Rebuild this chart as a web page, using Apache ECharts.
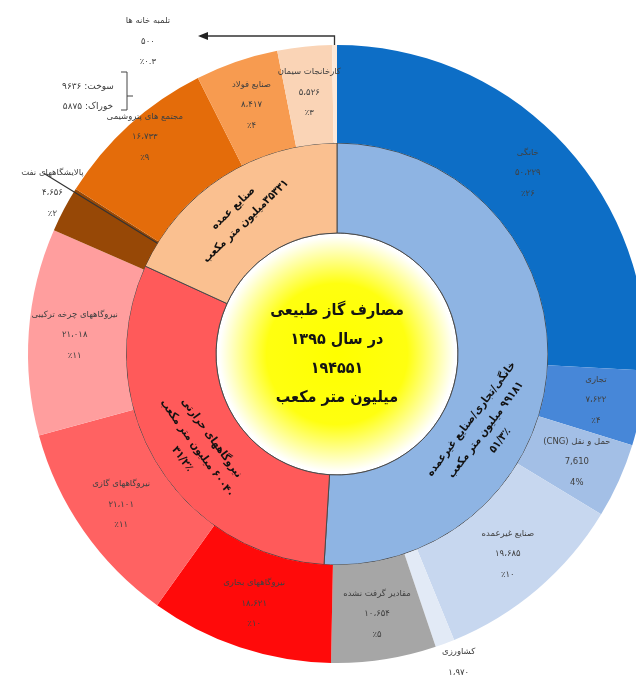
<!DOCTYPE html>
<html>
<head>
<meta charset="utf-8">
<script src="https://cdn.jsdelivr.net/npm/echarts@6/dist/echarts.min.js"></script>
<style>
  html, body { margin: 0; padding: 0; background: #ffffff; }
  #chart { width: 636px; height: 679px; }
</style>
</head>
<body>
<div id="chart"></div>
<script>
// Natural gas consumption in 1395, million cubic metres

// inner ring: consumer groups
const sectorNames = ['خانگی/تجاری/صنایع غیرعمده', 'نیروگاههای حرارتی', 'صنایع عمده'];
const sectorValues = [99181, 60040, 35331];
const sectorShares = ['۵۱/۳٪', '۳۱/۲٪', ''];

// outer ring: individual uses
const useNames = [
  'خانگی', 'تجاری', 'حمل و نقل (CNG)', 'صنایع غیرعمده', 'کشاورزی', 'مقادیر گرفت نشده',
  'نیروگاههای بخاری', 'نیروگاههای گازی', 'نیروگاههای چرخه ترکیبی',
  'پالایشگاههای نفت', 'مجتمع های پتروشیمی', 'صنایع فولاد', 'کارخانجات سیمان', 'تلمبه خانه ها'
];
const useValues = [50229, 7622, 7610, 19685, 1970, 10654, 18621, 21101, 21018, 4656, 16733, 8417, 5526, 500];
const useShares = ['٪۲۶', '٪۴', '4%', '٪۱۰', '٪۱', '٪۵', '٪۱۰', '٪۱۱', '٪۱۱', '٪۲', '٪۹', '٪۴', '٪۳', '٪۰.۳'];

// petrochemical split
const petroParts = ['سوخت', 'خوراک'];
const petroValues = [9636, 5875];

const totalUse = 194551;
const titleLines = ['مصارف گاز طبیعی', 'در سال ۱۳۹۵', 'TOTAL', 'میلیون متر مکعب'];

// ---- styling ----
const sectorColors = ['#8EB4E3', '#FF5A5A', '#FAC090'];
const useColors = [
  '#0D6EC6', '#4787D8', '#A3BFE6', '#C7D7EF', '#E2EAF6', '#A6A6A6',
  '#FF0A0A', '#FF6262', '#FF9E9E',
  '#974806', '#E46C0A', '#F79B50', '#FAD4B6', '#FDE9D9'
];
const latinIndex = [2];           // this label is set in Latin digits

const CX = 337, CY = 354;
const R_CORE = 121, R_MID = 211, R_OUT = 309;
const FONT = 'DejaVu Sans';
const FONT_NARROW = 'DejaVu Sans Condensed';

// label placement: [angle from 12 o'clock (deg, clockwise), radius, rotation]
const sectorLabelPlace = [[117, 167, 53], [236, 169, -54], [325, 170, 44]];
// outer labels that sit away from their slice centre: index -> [angle, radius]
const useLabelPlace = { 4: [159.1, 341], 9: [299.5, 327], 10: [318.5, 290], 13: [328.8, 365] };

function polar(deg, r) {
  const a = deg * Math.PI / 180;
  return [CX + r * Math.sin(a), CY - r * Math.cos(a)];
}
function faDigits(s) { return String(s).replace(/\d/g, d => '۰۱۲۳۴۵۶۷۸۹'[d]); }
function faNum(n) { return faDigits(n.toLocaleString('en-US')).replace(/,/g, '،'); }
function rtl(s) { return '\u202B' + s + '\u202C'; }

const useSum = useValues.reduce((a, b) => a + b, 0);
function boundaryAngle(k) {       // angle at the end of use k
  let s = 0;
  for (let i = 0; i <= k; i++) s += useValues[i];
  return s / useSum * 360;
}

const chart = echarts.init(document.getElementById('chart'), null, { renderer: 'canvas' });

const sectorData = sectorNames.map((n, i) => ({
  name: n, value: sectorValues[i], itemStyle: { color: sectorColors[i] }
}));
const useData = useNames.map((n, i) => ({
  name: n, value: useValues[i], itemStyle: { color: useColors[i] }
}));

function sectorLabel(p) {
  const i = p.dataIndex;
  const lines = [rtl(sectorNames[i]), rtl(faDigits(sectorValues[i]) + (i === 2 ? '' : ' ') + 'میلیون متر مکعب')];
  if (sectorShares[i]) lines.push(sectorShares[i]);
  return lines.join('\n');
}
function useLabel(p) {
  const i = p.dataIndex;
  const v = latinIndex.includes(i) ? useValues[i].toLocaleString('en-US') : faNum(useValues[i]);
  return [rtl(useNames[i]), v, useShares[i]].join('\n');
}

// arrow from the pumping-station sliver to its label
const sliverMid = (boundaryAngle(12) + 360) / 2;
const sTop = polar(sliverMid, R_OUT);
const arrowY = 36;
const refineryEdge = boundaryAngle(9);
const lnA = polar(refineryEdge - 0.6, R_MID);
const lnB = polar(refineryEdge - 0.6, R_MID + 133);

const graphics = [
  { type: 'polyline', shape: { points: [[sTop[0], sTop[1]], [sTop[0], arrowY], [206, arrowY]] },
    style: { stroke: '#333', lineWidth: 1.3, fill: null }, z: 20 },
  { type: 'polygon', shape: { points: [[198, arrowY], [208, arrowY - 4], [208, arrowY + 4]] },
    style: { fill: '#222' }, z: 20 },
  { type: 'line', shape: { x1: lnA[0], y1: lnA[1], x2: lnB[0], y2: lnB[1] },
    style: { stroke: '#333', lineWidth: 1.2 }, z: 20 },
  // bracket for petrochemical split
  { type: 'polyline', shape: { points: [[121, 72], [127, 72], [127, 110], [121, 110]] },
    style: { stroke: '#444', lineWidth: 1, fill: null }, z: 20 },
  { type: 'line', shape: { x1: 127, y1: 96, x2: 133, y2: 96 },
    style: { stroke: '#444', lineWidth: 1 }, z: 20 }
];
petroParts.forEach((p, i) => {
  graphics.push({
    type: 'text', x: 88, y: 87 + i * 20, z: 20,
    style: { text: rtl(p + ': ' + faDigits(petroValues[i])), font: '9px "' + FONT + '"',
             fill: '#3b3b3b', align: 'center', verticalAlign: 'middle' }
  });
});

const option = {
  backgroundColor: '#ffffff',
  animation: false,
  graphic: graphics,
  series: [
    {
      type: 'pie', silent: true, center: [CX, CY], radius: [0, R_CORE],
      data: [{ value: totalUse, name: 'total' }],
      itemStyle: {
        color: new echarts.graphic.RadialGradient(0.5, 0.5, 0.5, [
          { offset: 0, color: '#FFFF00' }, { offset: 0.58, color: '#FFFF10' },
          { offset: 0.97, color: '#FFFFFF' }, { offset: 1, color: '#FFFFFF' }
        ]),
        borderColor: '#666', borderWidth: 1
      },
      label: {
        show: true, position: 'center',
        formatter: () => titleLines.map(t => rtl(t === 'TOTAL' ? faDigits(totalUse) : t)).join('\n'),
        fontFamily: FONT_NARROW, fontWeight: 'bold', fontSize: 16, lineHeight: 29, color: '#141414'
      },
      labelLine: { show: false }, emphasis: { disabled: true }
    },
    {
      type: 'pie', silent: true, center: [CX, CY], radius: [R_CORE, R_MID],
      data: sectorData,
      itemStyle: { borderColor: '#4a4a4a', borderWidth: 1 },
      label: {
        show: true, position: 'inside', formatter: sectorLabel,
        fontFamily: FONT_NARROW, fontWeight: 'bold', fontSize: 11, lineHeight: 18, color: '#111'
      },
      labelLayout: p => {
        const pl = sectorLabelPlace[p.dataIndex];
        const xy = polar(pl[0], pl[1]);
        return { x: xy[0], y: xy[1], rotate: pl[2] };
      },
      labelLine: { show: false }, emphasis: { disabled: true }
    },
    {
      type: 'pie', silent: true, center: [CX, CY], radius: [R_MID, R_OUT],
      data: useData,
      itemStyle: { borderWidth: 0 },
      label: {
        show: true, position: 'inside', formatter: useLabel,
        fontFamily: FONT, fontSize: 8.5, lineHeight: 20.5, color: '#404040'
      },
      labelLayout: p => {
        const pl = useLabelPlace[p.dataIndex];
        if (!pl) return {};
        const xy = polar(pl[0], pl[1]);
        return { x: xy[0], y: xy[1] };
      },
      labelLine: { show: false }, emphasis: { disabled: true }
    }
  ]
};

chart.setOption(option);
</script>
</body>
</html>
